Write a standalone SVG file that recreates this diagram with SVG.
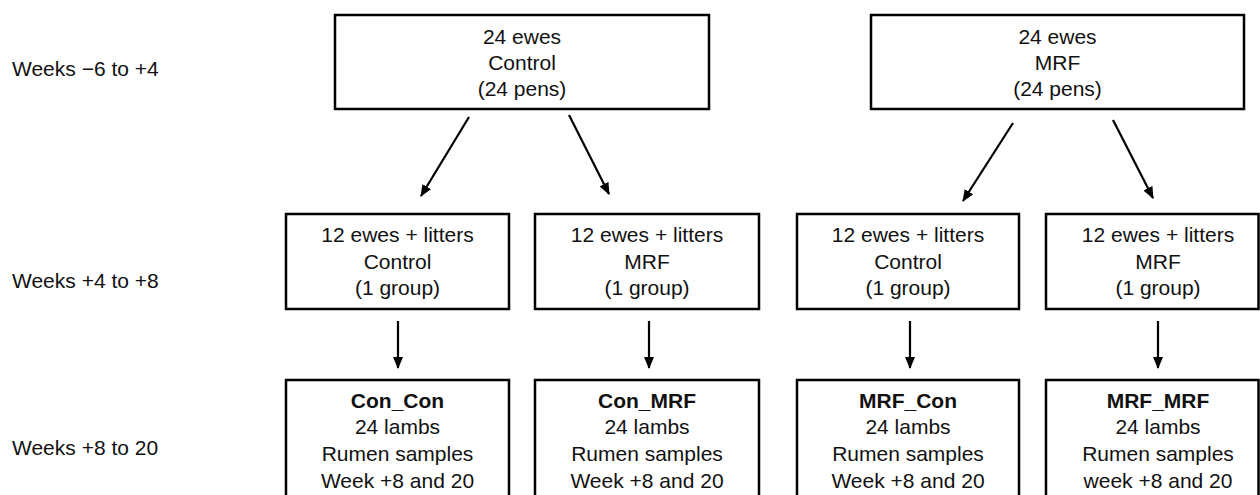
<svg xmlns="http://www.w3.org/2000/svg" width="1260" height="495" viewBox="0 0 1260 495">
<style>
.box{fill:#fff;stroke:#000;stroke-width:2.5}
text{font-family:"Liberation Sans",Arial,sans-serif;font-size:21px;fill:#111}
.c{text-anchor:middle}
.b{font-weight:bold}
.conn line{stroke:#000;stroke-width:2.2}
</style>
<defs>
<marker id="ah" markerWidth="12" markerHeight="10" refX="11" refY="5" orient="auto" markerUnits="userSpaceOnUse" viewBox="0 0 12 10">
<path d="M0,0 L12,5 L0,10 z" fill="#000"/>
</marker>
</defs>
<rect width="1260" height="495" fill="#fff"/>
<g id="labels">
<text x="12" y="76">Weeks −6 to +4</text>
<text x="12" y="288">Weeks +4 to +8</text>
<text x="12" y="455">Weeks +8 to 20</text>
</g>
<g id="ewes-control">
<rect class="box" x="335" y="15" width="374" height="94"/>
<text class="c" x="522" y="44">24 ewes</text>
<text class="c" x="522" y="70">Control</text>
<text class="c" x="522" y="96">(24 pens)</text>
</g>
<g id="ewes-mrf">
<rect class="box" x="871" y="15" width="373" height="94"/>
<text class="c" x="1057.5" y="44">24 ewes</text>
<text class="c" x="1057.5" y="70">MRF</text>
<text class="c" x="1057.5" y="96">(24 pens)</text>
</g>
<g id="mid-1">
<rect class="box" x="286" y="214" width="223" height="95"/>
<text class="c" x="397.5" y="242">12 ewes + litters</text>
<text class="c" x="397.5" y="269">Control</text>
<text class="c" x="397.5" y="295">(1 group)</text>
</g>
<g id="mid-2">
<rect class="box" x="535" y="214" width="224" height="95"/>
<text class="c" x="647" y="242">12 ewes + litters</text>
<text class="c" x="647" y="269">MRF</text>
<text class="c" x="647" y="295">(1 group)</text>
</g>
<g id="mid-3">
<rect class="box" x="797" y="214" width="222" height="95"/>
<text class="c" x="908" y="242">12 ewes + litters</text>
<text class="c" x="908" y="269">Control</text>
<text class="c" x="908" y="295">(1 group)</text>
</g>
<g id="mid-4">
<rect class="box" x="1046" y="214" width="212.5" height="95"/>
<text class="c" x="1158" y="242">12 ewes + litters</text>
<text class="c" x="1158" y="269">MRF</text>
<text class="c" x="1158" y="295">(1 group)</text>
</g>
<g id="con-con">
<rect class="box" x="286" y="380" width="223" height="130"/>
<text class="c b" x="397.5" y="408">Con_Con</text>
<text class="c" x="397.5" y="434">24 lambs</text>
<text class="c" x="397.5" y="461">Rumen samples</text>
<text class="c" x="397.5" y="488">Week +8 and 20</text>
</g>
<g id="con-mrf">
<rect class="box" x="535" y="380" width="224" height="130"/>
<text class="c b" x="647" y="408">Con_MRF</text>
<text class="c" x="647" y="434">24 lambs</text>
<text class="c" x="647" y="461">Rumen samples</text>
<text class="c" x="647" y="488">Week +8 and 20</text>
</g>
<g id="mrf-con">
<rect class="box" x="797" y="380" width="222" height="130"/>
<text class="c b" x="908" y="408">MRF_Con</text>
<text class="c" x="908" y="434">24 lambs</text>
<text class="c" x="908" y="461">Rumen samples</text>
<text class="c" x="908" y="488">Week +8 and 20</text>
</g>
<g id="mrf-mrf">
<rect class="box" x="1046" y="380" width="212.5" height="130"/>
<text class="c b" x="1158" y="408">MRF_MRF</text>
<text class="c" x="1158" y="434">24 lambs</text>
<text class="c" x="1158" y="461">Rumen samples</text>
<text class="c" x="1158" y="488">week +8 and 20</text>
</g>
<g class="conn" id="connectors">
<line x1="469" y1="117" x2="421" y2="196" marker-end="url(#ah)"/>
<line x1="569" y1="115" x2="609" y2="194" marker-end="url(#ah)"/>
<line x1="1013" y1="123" x2="963" y2="201" marker-end="url(#ah)"/>
<line x1="1113" y1="120" x2="1153" y2="198" marker-end="url(#ah)"/>
<line x1="398" y1="321" x2="398" y2="368" marker-end="url(#ah)"/>
<line x1="649" y1="321" x2="649" y2="368" marker-end="url(#ah)"/>
<line x1="910" y1="321" x2="910" y2="368" marker-end="url(#ah)"/>
<line x1="1158" y1="321" x2="1158" y2="368" marker-end="url(#ah)"/>
</g>
</svg>
